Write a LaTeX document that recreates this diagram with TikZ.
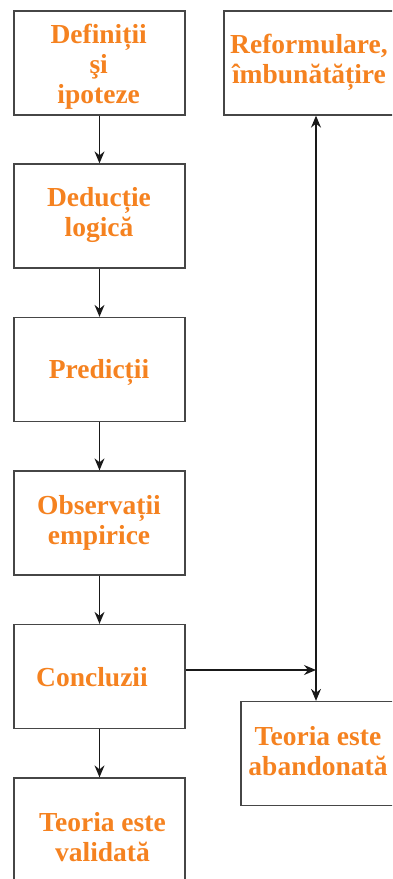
\documentclass[tikz,border=0pt]{standalone}
\usepackage{fontspec}
\setmainfont{Liberation Serif}
\usetikzlibrary{arrows.meta}
\definecolor{txtorange}{RGB}{245,130,32}
\definecolor{boxgray}{RGB}{70,70,70}
\begin{document}
\begin{tikzpicture}[x=1pt,y=-1pt,
  frame/.style={draw=boxgray,line width=1.3pt,minimum width=171pt,minimum height=104pt,inner sep=0pt},
  lbl/.style={inner sep=0pt,anchor=base,align=center,text=txtorange,font=\fontsize{27.5}{30}\selectfont\bfseries},
  conn/.style={draw=black!90,line width=1.3pt,-{Stealth[length=12pt,width=10pt,inset=4pt]}},
  conn2/.style={draw=black!90,line width=1.3pt,{Stealth[length=12pt,width=10pt,inset=4pt]}-{Stealth[length=12pt,width=10pt,inset=4pt]}}]
\useasboundingbox (0,0) rectangle (392,879);
\begin{scope}
\clip (0,0) rectangle (392,879);
\node[frame] (def) at (99.5,63) {};
\node[frame] (ded) at (99.5,216) {};
\node[frame] (pre) at (99.5,369.5) {};
\node[frame] (obs) at (99.5,523) {};
\node[frame] (con) at (99.5,676.5) {};
\node[frame] (val) at (99.5,830) {};
\node[frame,minimum width=172pt] (ref) at (310,63) {};
\node[frame,minimum width=156pt] (aba) at (319,753.5) {};
\node[lbl] (def-t) at (98.7,103) {Definiții\\şi\\ipoteze};
\node[lbl] (ded-t) at (99,236) {Deducție\\logică};
\node[lbl] (pre-t) at (99,378) {Predicții};
\node[lbl] (obs-t) at (99,544) {Observații\\empirice};
\node[lbl] (con-t) at (92,686) {Concluzii};
\node[lbl] (val-t) at (102.5,861) {Teoria este\\validată};
\node[lbl] (ref-t) at (309,83) {Reformulare,\\îmbunătățire};
\node[lbl] (aba-t) at (318,775) {Teoria este\\abandonată};
\coordinate (vx) at (316,670);
\draw[conn] (def.south) -- (ded.north);
\draw[conn] (ded.south) -- (pre.north);
\draw[conn] (pre.south) -- (obs.north);
\draw[conn] (obs.south) -- (con.north);
\draw[conn] (con.south) -- (val.north);
\draw[conn2] (ref.south -| vx) -- (aba.north -| vx);
\draw[conn] (con.east |- vx) -- (vx);
\end{scope}
\end{tikzpicture}
\end{document}
